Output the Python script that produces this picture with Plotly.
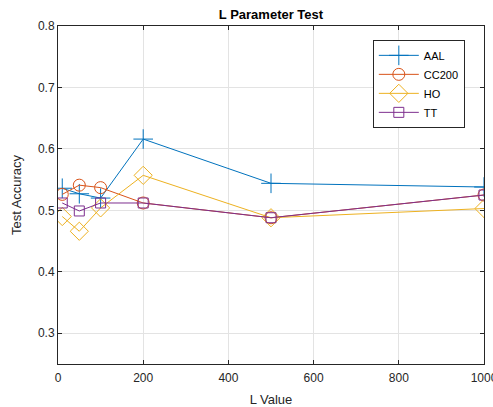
import plotly.graph_objects as go

L_values = [10, 50, 100, 200, 500, 1000]
aal = [0.536, 0.527, 0.520, 0.616, 0.544, 0.538]
cc200 = [0.526, 0.541, 0.537, 0.512, 0.488, 0.525]
ho = [0.490, 0.466, 0.504, 0.557, 0.488, 0.503]
tt = [0.512, 0.499, 0.512, 0.512, 0.488, 0.525]

series = [
    ("AAL", aal, "#0072BD", "cross-thin-open", 14),
    ("CC200", cc200, "#D95319", "circle-open", 12),
    ("HO", ho, "#EDB120", "diamond-open", 14),
    ("TT", tt, "#7E2F8E", "square-open", 10),
]

fig = go.Figure()
for name, vals, color, sym, size in series:
    fig.add_trace(go.Scatter(
        x=L_values, y=vals, name=name, mode="lines+markers",
        line=dict(color=color, width=1),
        marker=dict(symbol=sym, size=size, color=color, line=dict(color=color, width=1)),
    ))

axis_common = dict(
    showline=True, linecolor="#262626", linewidth=1, mirror="ticks",
    ticks="inside", ticklen=4, tickcolor="#262626",
    showgrid=True, gridcolor="#e3e3e3", gridwidth=1, zeroline=False,
    tickfont=dict(size=12, color="#262626"), automargin=False,
    ticklabeloverflow="allow",
)

fig.update_layout(
    width=493, height=407,
    margin=dict(l=58, r=9, t=26, b=43),
    paper_bgcolor="white", plot_bgcolor="white",
    font=dict(family="Liberation Sans, Arial, sans-serif", color="#262626"),
    title=dict(text="<b>L Parameter Test</b>", x=0.5, xref="paper", xanchor="center",
               y=1 - 14 / 407, yref="container", yanchor="middle", automargin=False,
               font=dict(size=13, color="#000000")),
    xaxis=dict(range=[0, 1000], tickvals=[0, 200, 400, 600, 800, 1000],
               ticklabelstandoff=3,
               title=dict(text="L Value", font=dict(size=13), standoff=16), **axis_common),
    yaxis=dict(range=[0.25, 0.8], tickvals=[0.3, 0.4, 0.5, 0.6, 0.7, 0.8],
               ticktext=["0.3", "0.4", "0.5", "0.6", "0.7", "0.8"],
               title=dict(text="Test Accuracy", font=dict(size=13), standoff=13), **axis_common),
    legend=dict(x=0.739, y=0.959, xanchor="left", yanchor="top",
                bordercolor="#262626", borderwidth=1, bgcolor="white",
                font=dict(size=11, color="#000000"), tracegroupgap=0,
                itemwidth=40),
    showlegend=True,
)

fig.write_html("out.html", config={"displayModeBar": False},
               post_script="document.body.style.margin='0px';")
